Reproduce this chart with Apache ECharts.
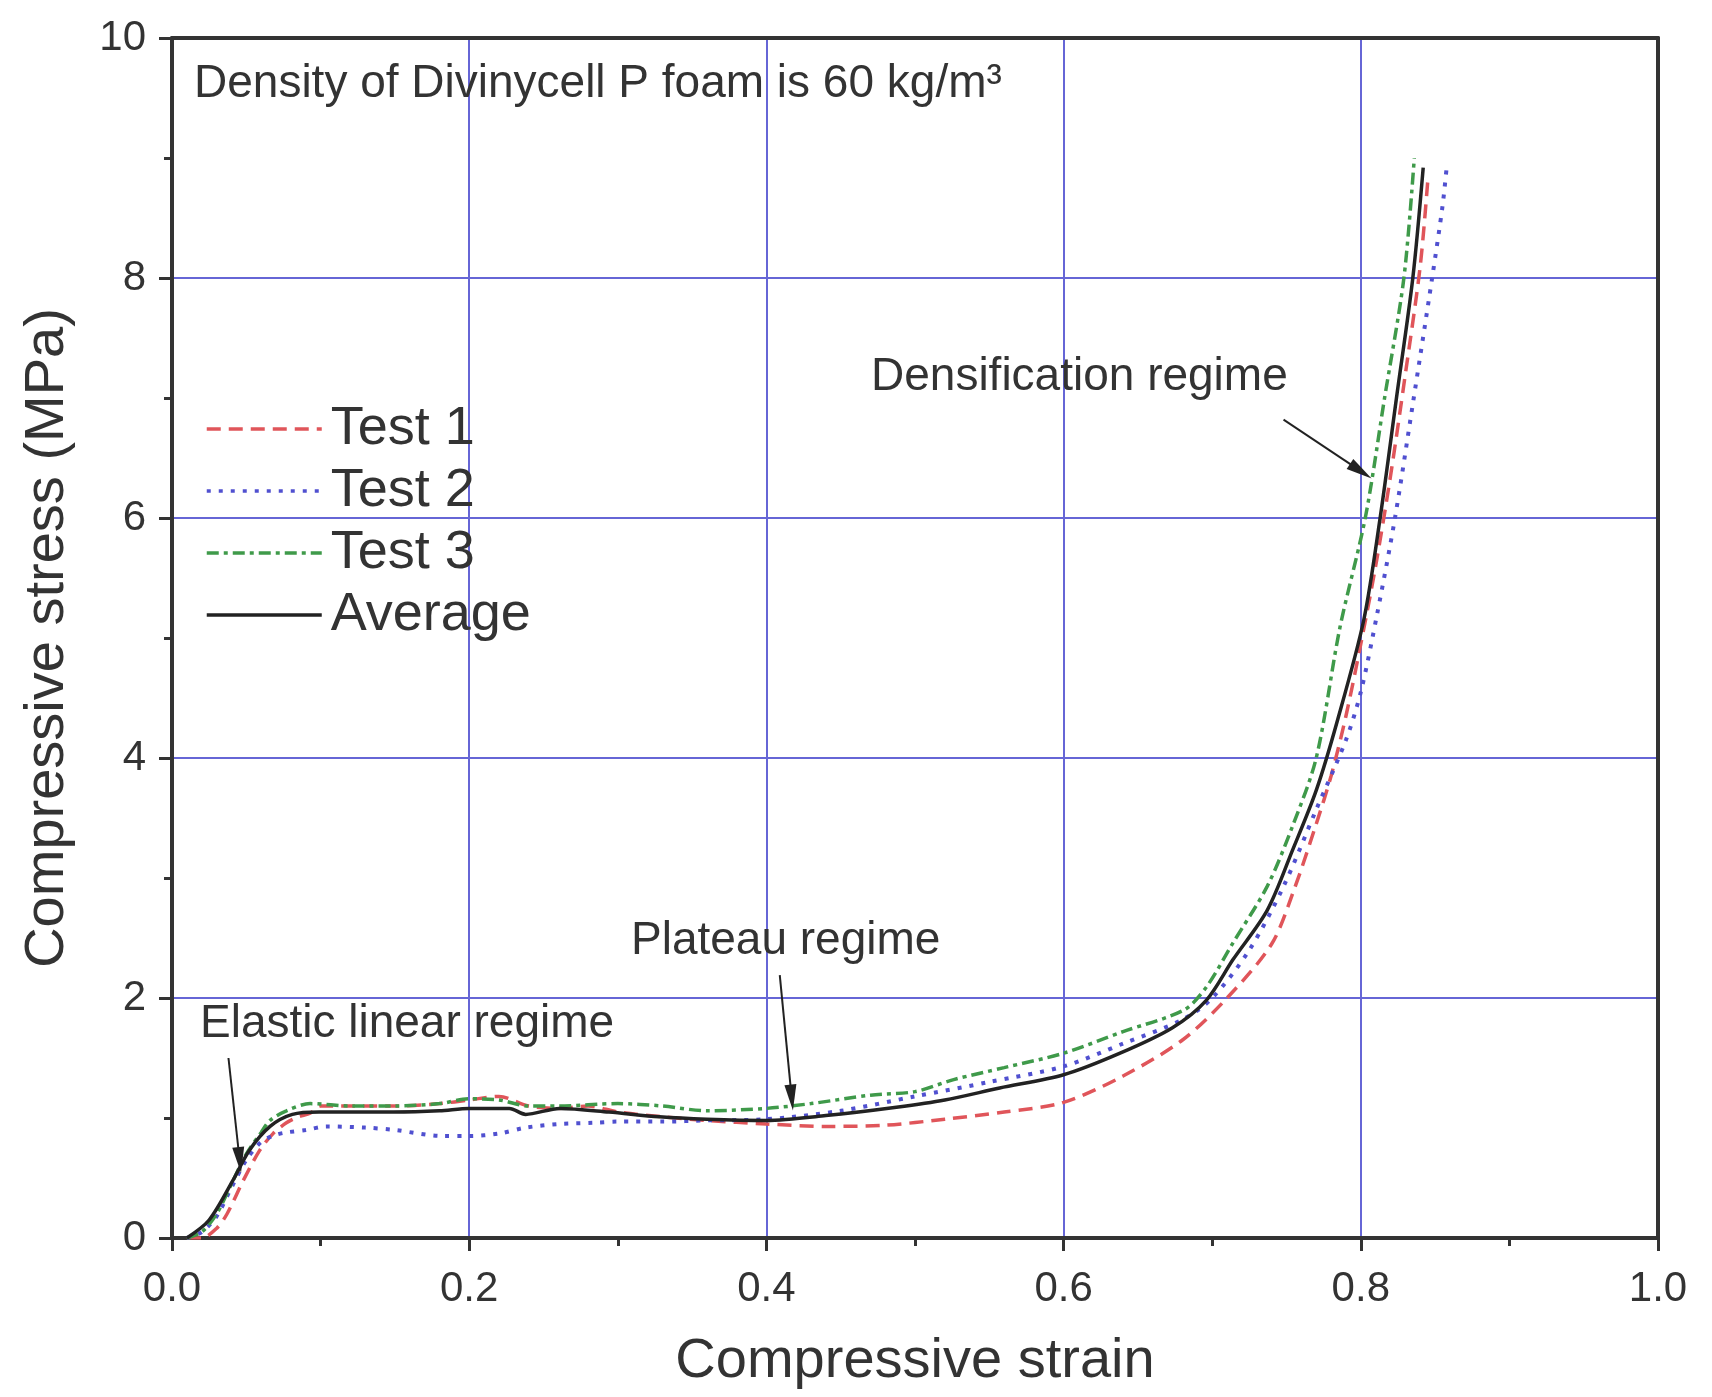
<!DOCTYPE html>
<html>
<head>
<meta charset="utf-8">
<script src="https://cdn.jsdelivr.net/npm/echarts@6/dist/echarts.min.js"></script>
<style>
html,body{margin:0;padding:0;background:#fff;}
#chart{width:1712px;height:1397px;}
</style>
</head>
<body>
<div id="chart"></div>
<script>
// ---- Data ----
const strain1 = [0.010, 0.020, 0.030, 0.037, 0.048, 0.059, 0.068, 0.077, 0.085, 0.093, 0.100, 0.120, 0.150, 0.180, 0.200, 0.220, 0.240, 0.260, 0.280, 0.300, 0.330, 0.360, 0.400, 0.440, 0.480, 0.520, 0.560, 0.600, 0.640, 0.680, 0.710, 0.740, 0.755, 0.770, 0.780, 0.790, 0.800, 0.810, 0.820, 0.830, 0.840, 0.845];
const stress1 = [0.00, 0.00, 0.08, 0.20, 0.48, 0.73, 0.87, 0.96, 1.01, 1.04, 1.10, 1.10, 1.10, 1.12, 1.15, 1.18, 1.10, 1.08, 1.10, 1.05, 1.01, 0.98, 0.95, 0.93, 0.94, 0.99, 1.05, 1.13, 1.35, 1.65, 2.00, 2.45, 2.90, 3.45, 3.85, 4.35, 4.95, 5.60, 6.35, 7.20, 8.10, 8.80];

const strain2 = [0.010, 0.020, 0.030, 0.040, 0.050, 0.060, 0.070, 0.077, 0.090, 0.104, 0.130, 0.150, 0.182, 0.200, 0.220, 0.238, 0.260, 0.283, 0.300, 0.330, 0.360, 0.400, 0.450, 0.500, 0.550, 0.600, 0.640, 0.680, 0.700, 0.725, 0.748, 0.770, 0.790, 0.800, 0.811, 0.823, 0.835, 0.848, 0.855, 0.858];
const stress2 = [0.00, 0.05, 0.18, 0.42, 0.65, 0.80, 0.86, 0.88, 0.90, 0.93, 0.92, 0.90, 0.85, 0.85, 0.87, 0.92, 0.95, 0.96, 0.97, 0.97, 0.98, 0.99, 1.06, 1.18, 1.30, 1.43, 1.62, 1.82, 2.00, 2.40, 2.93, 3.57, 4.15, 4.55, 5.20, 6.00, 6.95, 8.00, 8.60, 8.95];

const strain3 = [0.010, 0.020, 0.030, 0.040, 0.050, 0.060, 0.066, 0.077, 0.093, 0.120, 0.150, 0.180, 0.200, 0.220, 0.240, 0.260, 0.300, 0.330, 0.360, 0.400, 0.430, 0.470, 0.500, 0.526, 0.560, 0.600, 0.640, 0.681, 0.696, 0.714, 0.737, 0.754, 0.770, 0.786, 0.803, 0.816, 0.829, 0.836];
const stress3 = [0.00, 0.05, 0.20, 0.45, 0.70, 0.88, 0.98, 1.06, 1.12, 1.10, 1.10, 1.12, 1.16, 1.15, 1.10, 1.10, 1.12, 1.10, 1.06, 1.08, 1.12, 1.19, 1.22, 1.32, 1.42, 1.54, 1.72, 1.90, 2.09, 2.46, 2.93, 3.43, 4.00, 5.09, 6.00, 7.00, 8.00, 9.00];

const strainAvg = [0.010, 0.025, 0.041, 0.052, 0.066, 0.081, 0.099, 0.120, 0.149, 0.180, 0.200, 0.227, 0.238, 0.261, 0.294, 0.328, 0.360, 0.400, 0.440, 0.4875, 0.520, 0.557, 0.600, 0.638, 0.673, 0.696, 0.714, 0.737, 0.754, 0.770, 0.784, 0.802, 0.813, 0.824, 0.835, 0.842];
const stressAvg = [0.00, 0.15, 0.48, 0.73, 0.93, 1.03, 1.05, 1.05, 1.05, 1.06, 1.08, 1.08, 1.03, 1.08, 1.05, 1.01, 0.99, 0.98, 1.02, 1.09, 1.15, 1.25, 1.36, 1.54, 1.75, 1.98, 2.32, 2.73, 3.23, 3.73, 4.30, 5.15, 6.00, 7.00, 8.00, 8.92];

const seriesNames = ['Test 1', 'Test 2', 'Test 3', 'Average'];
const xTicks = [0.0, 0.2, 0.4, 0.6, 0.8, 1.0];
const yTicks = [0, 2, 4, 6, 8, 10];

// annotation arrows in data coordinates: [tail, head]
const arrowDensification = [[0.748, 6.82], [0.800, 6.39]];
const arrowPlateau = [[0.409, 2.19], [0.417, 1.17]];
const arrowElastic = [[0.038, 1.50], [0.0455, 0.65]];

// ---- Chart ----
const FONT = 'Liberation Sans, Arial, sans-serif';
const TXT = '#333';
const zip = (a, b) => a.map((x, i) => [x, b[i]]);

const chart = echarts.init(document.getElementById('chart'), null, {renderer: 'canvas'});

const baseSeries = (name, data, color, type, width, z) => ({
  name, type: 'line', data, symbol: 'none', showSymbol: false,
  smooth: 0.3, z, xAxisIndex: 0, yAxisIndex: 0,
  lineStyle: {color, width, type},
  itemStyle: {color}
});

const s1 = baseSeries(seriesNames[0], zip(strain1, stress1), '#e0555a', [14, 8], 3.5, 3);
const s2 = baseSeries(seriesNames[1], zip(strain2, stress2), '#5050d0', [4, 8], 4, 3);
const s3 = baseSeries(seriesNames[2], zip(strain3, stress3), '#3f9a4a', [12, 5, 4, 5], 3.5, 3);
const s4 = baseSeries(seriesNames[3], zip(strainAvg, stressAvg), '#222222', 'solid', 3.5, 4);
s4.markLine = {
  silent: true,
  symbol: ['none', 'triangle'],
  symbolSize: [12, 26],
  lineStyle: {color: '#222', width: 2, type: 'solid'},
  label: {show: false},
  data: [
    [{coord: arrowDensification[0]}, {coord: arrowDensification[1]}],
    [{coord: arrowPlateau[0]}, {coord: arrowPlateau[1]}],
    [{coord: arrowElastic[0]}, {coord: arrowElastic[1]}]
  ]
};

const textEl = (txt, x, y, size) => ({
  type: 'text', x, y, z: 100,
  style: {text: txt, fill: TXT, font: size + 'px ' + FONT, verticalAlign: 'middle', align: 'left'}
});

const frameAxis = {
  show: true,
  axisLine: {show: true, onZero: false, lineStyle: {color: '#333', width: 4}},
  axisTick: {show: false}, axisLabel: {show: false}, splitLine: {show: false}
};

const option = {
  animation: false,
  backgroundColor: '#ffffff',
  grid: {left: 172, right: 54, top: 38, bottom: 159},
  legend: {
    data: seriesNames,
    orient: 'vertical',
    left: 200, top: 397,
    itemWidth: 115, itemHeight: 20, itemGap: 8,
    itemStyle: {opacity: 0},
    lineStyle: {width: 3.5},
    textStyle: {fontSize: 54, fontFamily: FONT, color: TXT, padding: [0, 0, 0, 4]},
    selectedMode: false
  },
  xAxis: [{
    type: 'value', min: 0, max: 1, interval: 0.2,
    name: 'Compressive strain', nameLocation: 'middle', nameGap: 96,
    nameTextStyle: {fontSize: 56, fontFamily: FONT, color: TXT},
    axisLine: {show: true, onZero: false, lineStyle: {color: '#333', width: 4}},
    axisTick: {show: true, inside: false, length: 13, lineStyle: {color: '#333', width: 3}},
    minorTick: {show: true, splitNumber: 2, length: 8, lineStyle: {color: '#333', width: 3}},
    axisLabel: {fontSize: 42, fontFamily: FONT, color: TXT, margin: 30,
      formatter: v => xTicks.some(t => Math.abs(t - v) < 1e-9) ? v.toFixed(1) : ''},
    splitLine: {show: true, lineStyle: {color: '#6666d6', width: 2}}
  }, Object.assign({type: 'value', min: 0, max: 1, interval: 0.2, position: 'top'}, frameAxis)],
  yAxis: [{
    type: 'value', min: 0, max: 10, interval: 2,
    name: 'Compressive stress (MPa)', nameLocation: 'middle', nameGap: 96,
    nameTextStyle: {fontSize: 56, fontFamily: FONT, color: TXT},
    axisLine: {show: true, onZero: false, lineStyle: {color: '#333', width: 4}},
    axisTick: {show: true, inside: false, length: 13, lineStyle: {color: '#333', width: 3}},
    minorTick: {show: true, splitNumber: 2, length: 8, lineStyle: {color: '#333', width: 3}},
    axisLabel: {fontSize: 42, fontFamily: FONT, color: TXT, margin: 26,
      formatter: v => yTicks.includes(v) ? String(v) : ''},
    splitLine: {show: true, lineStyle: {color: '#6666d6', width: 2}}
  }, Object.assign({type: 'value', min: 0, max: 10, interval: 2, position: 'right'}, frameAxis)],
  series: [s1, s2, s3, s4],
  graphic: [
    textEl('Density of Divinycell P foam is 60 kg/m³', 194, 84, 46),
    textEl('Densification regime', 871, 377, 46),
    textEl('Plateau regime', 631, 941, 46),
    textEl('Elastic linear regime', 200, 1024, 46)
  ]
};
chart.setOption(option);
</script>
</body>
</html>
